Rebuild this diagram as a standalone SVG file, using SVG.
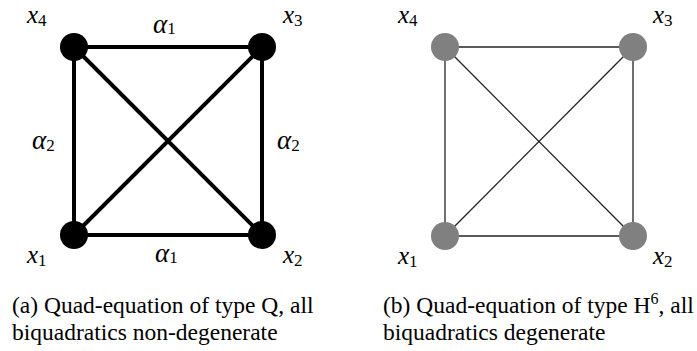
<svg xmlns="http://www.w3.org/2000/svg" width="697" height="351" viewBox="0 0 697 351">
<style>
text{font-family:'Liberation Serif','Times New Roman',serif;fill:#000}
.lbl{font-style:italic;font-size:25px}
.al{font-style:italic;font-size:27px}
.sub{font-size:17px;font-style:normal}
.cap{font-size:23.5px}
.thick{stroke:#000;stroke-width:4;fill:none}
.thin{stroke:#222;stroke-width:1.3;fill:none}
.bn{fill:#000}
.gn{fill:#808080}
</style>
<rect width="697" height="351" fill="#fff"/>
<g id="connectors">
<line class="thick" x1="74" y1="47" x2="262" y2="47"/>
<line class="thick" x1="74" y1="235" x2="262" y2="235"/>
<line class="thick" x1="74" y1="47" x2="74" y2="235"/>
<line class="thick" x1="262" y1="47" x2="262" y2="235"/>
<line class="thick" x1="74" y1="47" x2="262" y2="235"/>
<line class="thick" x1="262" y1="47" x2="74" y2="235"/>
<line class="thin" x1="445" y1="47" x2="633" y2="47"/>
<line class="thin" x1="445" y1="236" x2="633" y2="236"/>
<line class="thin" x1="445" y1="47" x2="445" y2="236"/>
<line class="thin" x1="633" y1="47" x2="633" y2="236"/>
<line class="thin" x1="445" y1="47" x2="633" y2="236"/>
<line class="thin" x1="633" y1="47" x2="445" y2="236"/>
</g>
<g id="a-x4"><circle class="bn" cx="74" cy="47" r="14"/><text class="lbl" x="27" y="23">x<tspan class="sub" dy="3">4</tspan></text></g>
<g id="a-x3"><circle class="bn" cx="262" cy="47" r="14"/><text class="lbl" x="283" y="23">x<tspan class="sub" dy="3">3</tspan></text></g>
<g id="a-x1"><circle class="bn" cx="74" cy="235" r="14"/><text class="lbl" x="27" y="263">x<tspan class="sub" dy="3">1</tspan></text></g>
<g id="a-x2"><circle class="bn" cx="262" cy="235" r="14"/><text class="lbl" x="283" y="263">x<tspan class="sub" dy="3">2</tspan></text></g>
<g id="a-edge-labels">
<text class="al" x="153" y="33">α<tspan class="sub" dy="1">1</tspan></text>
<text class="al" x="155" y="262">α<tspan class="sub" dy="1">1</tspan></text>
<text class="al" x="32" y="149">α<tspan class="sub" dy="2">2</tspan></text>
<text class="al" x="277" y="149">α<tspan class="sub" dy="2">2</tspan></text>
</g>
<g id="b-x4"><circle class="gn" cx="445" cy="47" r="14"/><text class="lbl" x="398" y="23">x<tspan class="sub" dy="3">4</tspan></text></g>
<g id="b-x3"><circle class="gn" cx="633" cy="47" r="14"/><text class="lbl" x="653" y="23">x<tspan class="sub" dy="3">3</tspan></text></g>
<g id="b-x1"><circle class="gn" cx="445" cy="236" r="14"/><text class="lbl" x="398" y="264">x<tspan class="sub" dy="3">1</tspan></text></g>
<g id="b-x2"><circle class="gn" cx="633" cy="236" r="14"/><text class="lbl" x="653" y="264">x<tspan class="sub" dy="3">2</tspan></text></g>
<g id="captions">
<text class="cap" x="12" y="313">(a) Quad-equation of type Q, all</text>
<text class="cap" x="12" y="340">biquadratics non-degenerate</text>
<text class="cap" x="383" y="313">(b) Quad-equation of type H<tspan font-size="16" dy="-9">6</tspan><tspan dy="9">, all</tspan></text>
<text class="cap" x="383" y="340">biquadratics degenerate</text>
</g>
</svg>
